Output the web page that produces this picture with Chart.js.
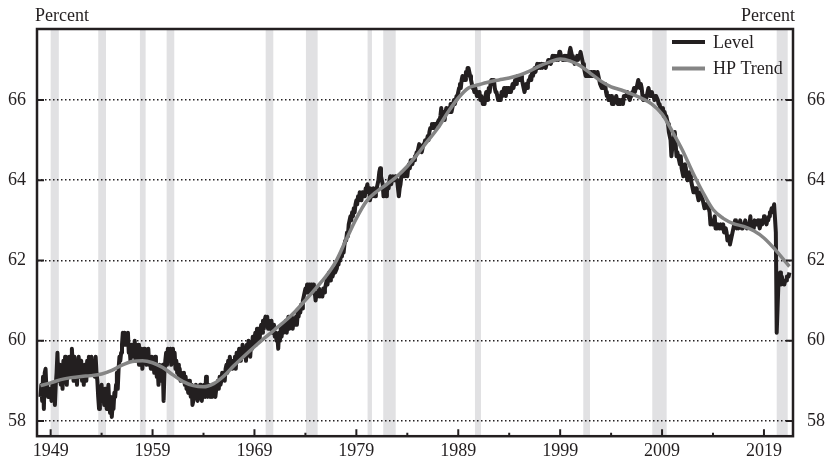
<!DOCTYPE html>
<html>
<head>
<meta charset="utf-8">
<title>Labor force participation rate</title>
<script src="https://cdn.jsdelivr.net/npm/chart.js@4.4.1/dist/chart.umd.min.js"></script>
<style>
  html, body { margin: 0; padding: 0; background: #fff; }
  canvas { display: block; }
</style>
</head>
<body>
<canvas id="chart" width="828" height="461"></canvas>
<script>
'use strict';

// participation rate, monthly, one row per year starting Jan 1948
const levelStartYear = 1948;
const levelValues = [
  58.6,58.9,58.5,59.1,58.3,59.2,59.3,58.8,58.9,58.6,58.8,58.7,
  58.8,58.5,58.9,58.6,58.8,58.4,58.9,59.2,59.7,59.0,59.4,59.1,
  58.9,59.3,58.8,59.5,59.0,59.6,59.2,58.9,59.5,59.3,59.6,59.2,
  59.1,59.8,59.4,59.0,59.6,59.2,59.4,58.9,59.3,59.6,59.1,59.4,
  59.5,59.0,59.3,58.9,59.4,59.2,59.0,59.5,59.3,59.6,59.2,59.4,
  59.6,59.2,59.5,59.3,59.1,59.6,59.2,59.0,58.6,58.3,58.8,58.7,
  58.9,58.5,58.7,58.4,58.8,58.6,58.3,58.5,58.9,58.4,58.2,58.6,
  58.1,58.4,58.3,58.7,58.6,58.9,59.2,58.8,59.3,59.6,59.5,59.7,
  59.9,60.2,60.0,60.2,59.9,60.1,60.0,60.2,59.7,59.8,59.5,59.9,
  59.6,59.9,59.7,60.0,59.5,59.8,59.6,59.9,59.4,59.7,59.5,59.8,
  59.3,59.6,59.8,59.5,59.7,59.4,59.6,59.8,59.4,59.5,59.3,59.6,
  59.3,59.5,59.2,59.6,59.4,59.1,59.3,58.9,59.4,59.2,59.0,59.3,
  59.4,58.5,59.2,59.5,59.7,59.4,59.8,59.5,59.6,59.8,59.4,59.7,
  59.8,59.5,59.7,59.3,59.5,59.2,59.4,59.1,59.3,59.0,59.2,59.1,
  59.0,59.2,58.9,59.1,58.8,58.9,58.7,59.0,58.8,58.6,58.9,58.4,
  58.5,58.8,58.6,58.9,58.7,58.5,58.8,58.6,58.9,58.7,58.5,58.8,
  58.7,58.9,58.6,59.1,58.8,58.6,58.9,58.7,58.6,58.8,58.6,58.9,
  58.7,58.9,58.6,58.8,58.9,59.0,58.8,59.1,58.9,59.0,59.2,59.1,
  59.2,59.0,59.3,59.4,59.2,59.5,59.3,59.6,59.4,59.5,59.3,59.5,
  59.4,59.6,59.3,59.7,59.5,59.6,59.8,59.5,59.7,59.6,59.9,59.7,
  59.6,59.8,59.5,59.9,59.7,60.0,59.8,59.6,59.9,59.8,60.1,59.9,
  60.0,60.2,59.9,60.3,60.1,60.2,60.0,60.3,60.4,60.2,60.5,60.3,
  60.5,60.6,60.4,60.6,60.3,60.5,60.4,60.3,60.5,60.2,60.4,60.3,
  60.1,60.2,60.0,60.1,59.8,60.2,60.0,60.3,60.1,60.4,60.2,60.4,
  60.3,60.5,60.2,60.4,60.6,60.3,60.5,60.4,60.6,60.3,60.5,60.4,
  60.5,60.6,60.4,60.7,60.6,60.8,60.7,60.9,60.8,61.0,61.1,61.2,
  61.3,61.2,61.4,61.2,61.3,61.4,61.3,61.4,61.2,61.4,61.3,61.2,
  61.0,61.2,61.1,61.2,61.3,61.1,61.2,61.2,61.1,61.3,61.2,61.3,
  61.4,61.5,61.4,61.6,61.7,61.5,61.7,61.6,61.6,61.7,61.8,61.7,
  61.7,61.8,62.0,61.9,62.1,62.0,62.2,62.1,62.3,62.2,62.4,62.5,
  62.5,62.7,62.6,62.9,63.0,63.1,63.0,63.2,63.1,63.3,63.2,63.4,
  63.5,63.4,63.6,63.5,63.7,63.6,63.5,63.7,63.6,63.7,63.6,63.8,
  63.8,63.9,63.7,63.8,63.5,63.6,63.7,63.6,63.8,63.7,63.6,63.8,
  63.8,63.9,64.0,64.2,64.3,64.1,64.0,63.9,63.6,63.7,63.8,63.6,
  63.7,63.9,63.8,64.0,64.1,63.9,64.0,64.1,64.0,64.0,64.1,64.0,
  64.0,63.8,63.6,63.8,63.9,64.1,64.2,64.1,64.2,64.1,64.2,64.3,
  64.1,64.3,64.4,64.3,64.5,64.5,64.4,64.5,64.5,64.6,64.6,64.7,
  64.7,64.8,64.9,64.8,64.8,64.7,64.8,64.9,64.9,65.0,65.0,65.0,
  65.1,65.0,65.2,65.3,65.3,65.4,65.3,65.4,65.3,65.4,65.4,65.4,
  65.4,65.5,65.5,65.6,65.8,65.5,65.6,65.7,65.5,65.7,65.8,65.7,
  65.7,65.8,65.7,65.9,65.7,65.8,65.9,66.0,65.9,66.0,66.1,66.1,
  66.2,66.3,66.4,66.3,66.5,66.6,66.5,66.6,66.5,66.7,66.6,66.8,
  66.8,66.7,66.6,66.5,66.4,66.3,66.3,66.2,66.3,66.2,66.1,66.2,
  66.1,66.2,66.0,66.1,66.0,65.9,66.0,65.9,66.1,66.2,66.0,66.1,
  66.3,66.2,66.4,66.5,66.5,66.4,66.5,66.3,66.2,66.2,66.1,66.0,
  66.0,66.1,66.0,66.2,66.1,66.2,66.3,66.2,66.1,66.3,66.2,66.3,
  66.2,66.3,66.2,66.3,66.4,66.3,66.4,66.5,66.4,66.5,66.6,66.5,
  66.6,66.5,66.6,66.5,66.4,66.3,66.2,66.3,66.4,66.3,66.4,66.5,
  66.5,66.6,66.5,66.7,66.6,66.7,66.8,66.7,66.8,66.9,66.8,66.9,
  66.9,66.8,66.9,66.8,66.9,66.9,66.9,66.8,66.9,66.9,67.0,67.0,
  67.0,66.9,67.0,67.1,67.0,67.1,67.0,67.1,67.0,67.1,67.0,67.2,
  67.2,67.1,67.1,67.0,67.0,67.1,67.0,67.1,67.0,67.1,67.0,67.2,
  67.3,67.2,67.1,67.0,67.0,66.9,67.0,67.0,67.1,67.0,67.1,67.1,
  67.2,67.1,67.0,66.9,66.8,66.7,66.6,66.7,66.6,66.7,66.6,66.7,
  66.6,66.7,66.6,66.7,66.6,66.7,66.6,66.6,66.7,66.6,66.5,66.4,
  66.4,66.3,66.3,66.4,66.3,66.4,66.2,66.1,66.1,66.0,66.1,66.0,
  66.1,65.9,66.0,65.9,66.0,66.0,66.1,66.0,65.9,66.0,66.0,65.9,
  66.0,66.0,65.9,66.1,66.1,66.1,66.1,66.2,66.1,66.1,66.0,66.1,
  66.1,66.2,66.2,66.3,66.2,66.3,66.3,66.4,66.5,66.4,66.3,66.4,
  66.3,66.1,66.0,66.0,66.1,66.0,66.1,66.2,66.3,66.2,66.1,66.1,
  66.2,66.1,66.1,66.0,66.1,66.1,66.1,66.0,65.9,65.9,65.8,65.7,
  65.7,65.8,65.6,65.7,65.6,65.6,65.5,65.4,65.2,65.1,65.0,64.6,
  64.8,64.9,64.9,65.2,64.9,64.6,64.7,64.6,64.5,64.4,64.6,64.3,
  64.2,64.1,64.2,64.4,64.3,64.1,64.0,64.1,64.2,64.1,64.0,63.9,
  63.8,63.7,63.8,63.7,63.8,63.7,63.6,63.5,63.6,63.7,63.6,63.6,
  63.5,63.4,63.3,63.4,63.4,63.4,63.3,63.3,63.2,62.9,63.0,62.9,
  62.9,62.9,63.1,62.8,62.8,62.8,62.9,62.9,62.8,62.9,62.8,62.8,
  62.9,62.7,62.7,62.8,62.7,62.5,62.6,62.6,62.4,62.5,62.6,62.7,
  62.8,62.9,63.0,62.9,62.8,62.9,62.8,62.9,63.0,62.9,62.8,62.8,
  62.9,62.9,63.0,62.9,62.8,62.9,62.9,62.9,63.1,62.8,62.9,62.9,
  62.8,63.0,62.9,62.9,62.9,63.0,62.9,62.8,62.9,63.0,62.9,63.0,
  63.1,63.1,63.0,62.9,63.0,63.0,63.1,63.2,63.2,63.3,63.2,63.3,
  63.4,63.4,62.7,60.2,60.8,61.4,61.4,61.7,61.4,61.6,61.5,61.5,
  61.4,61.5,61.5,61.6,61.6,61.6,61.7
];

// HP trend read at the start of each year
const trendYears = [
  1948,1949,1950,1951,1952,1953,1954,1955,1956,1957,1958,1959,
  1960,1961,1962,1963,1964,1965,1966,1967,1968,1969,1970,1971,
  1972,1973,1974,1975,1976,1977,1978,1979,1980,1981,1982,1983,
  1984,1985,1986,1987,1988,1989,1990,1991,1992,1993,1994,1995,
  1996,1997,1998,1999,2000,2001,2002,2003,2004,2005,2006,2007,
  2008,2009,2010,2011,2012,2013,2014,2015,2016,2017,2018,2019,
  2020,2021,2021.5
];
const trendValues = [
  58.88,58.95,59.03,59.08,59.11,59.13,59.17,59.26,59.39,59.48,59.50,59.45,
  59.33,59.15,58.98,58.88,58.85,58.93,59.12,59.38,59.62,59.85,60.07,60.28,
  60.49,60.73,61.01,61.30,61.60,61.98,62.52,63.05,63.48,63.72,63.90,64.10,
  64.35,64.65,64.98,65.30,65.70,66.05,66.30,66.38,66.45,66.50,66.55,66.62,
  66.72,66.85,66.95,67.02,66.97,66.85,66.66,66.47,66.33,66.25,66.15,66.04,
  65.90,65.65,65.22,64.75,64.20,63.70,63.27,63.05,62.92,62.85,62.74,62.56,
  62.30,62.00,61.85
];

// shaded recessions, [start, end] in years
const recessions = [
  [1949.0, 1949.8], [1953.67, 1954.43], [1957.76, 1958.32], [1960.38, 1961.13],
  [1970.1, 1970.85], [1974.05, 1975.2], [1980.1, 1980.53], [1981.64, 1982.86],
  [1990.64, 1991.23], [2001.27, 2001.93], [2008.04, 2009.45], [2020.25, 2021.33]
];

const yTicks = [58, 60, 62, 64, 66];
const xMajorYears = [1949, 1959, 1969, 1979, 1989, 1999, 2009, 2019];
const xMinorYears = [1954, 1964, 1974, 1984, 1994, 2004, 2014];

const ink = '#231f20';
const serif = '"Liberation Serif", "Times New Roman", serif';

const levelPoints = levelValues.map((v, i) => ({x: levelStartYear + i / 12, y: v}));
const trendPoints = trendValues.map((v, i) => ({x: trendYears[i], y: v}));

const decor = {
  id: 'decor',
  beforeDraw(chart) {
    const {ctx, chartArea: a, scales: {x}} = chart;
    ctx.save();
    ctx.fillStyle = '#e1e1e3';
    recessions.forEach(r => {
      const x0 = Math.max(x.getPixelForValue(r[0]), a.left);
      const x1 = Math.min(x.getPixelForValue(r[1]), a.right);
      ctx.fillRect(x0, a.top, x1 - x0, a.bottom - a.top);
    });
    ctx.restore();
  },
  afterDraw(chart) {
    const {ctx, chartArea: a, scales: {x, y}} = chart;
    ctx.save();
    ctx.strokeStyle = ink;
    ctx.lineWidth = 2;
    ctx.beginPath();
    yTicks.forEach(v => {
      const py = y.getPixelForValue(v);
      ctx.moveTo(a.left, py);
      ctx.lineTo(a.left + 7, py);
      ctx.moveTo(a.right - 7, py);
      ctx.lineTo(a.right, py);
    });
    xMajorYears.forEach(v => {
      const px = x.getPixelForValue(v);
      ctx.moveTo(px, a.bottom);
      ctx.lineTo(px, a.bottom - 7);
    });
    xMinorYears.forEach(v => {
      const px = x.getPixelForValue(v);
      ctx.moveTo(px, a.bottom);
      ctx.lineTo(px, a.bottom - 3.5);
    });
    ctx.stroke();

    // frame round the plot
    ctx.lineWidth = 2.5;
    ctx.strokeRect(a.left, a.top, a.right - a.left, a.bottom - a.top);

    // unit labels
    ctx.fillStyle = ink;
    ctx.font = '18px ' + serif;
    ctx.textBaseline = 'alphabetic';
    ctx.textAlign = 'left';
    ctx.fillText('Percent', a.left - 2, 21);
    ctx.textAlign = 'right';
    ctx.fillText('Percent', a.right + 2, 21);

    // legend
    ctx.font = '18px ' + serif;
    ctx.textAlign = 'left';
    ctx.textBaseline = 'middle';
    chart.data.datasets.forEach((ds, i) => {
      const ly = a.top + 13 + i * 26.5;
      ctx.strokeStyle = ds.borderColor;
      ctx.lineWidth = 4;
      ctx.beginPath();
      ctx.moveTo(a.right - 121, ly);
      ctx.lineTo(a.right - 88, ly);
      ctx.stroke();
      ctx.fillText(ds.label, a.right - 80, ly + 1);
    });
    ctx.restore();
  }
};

const tickFont = {family: serif, size: 18};

const ctx = document.getElementById('chart').getContext('2d');
const chart = new Chart(ctx, {
  type: 'line',
  data: {
    datasets: [
      {
        label: 'Level',
        data: levelPoints,
        borderColor: ink,
        borderWidth: 4,
        borderJoinStyle: 'round',
        pointRadius: 0,
        order: 2
      },
      {
        label: 'HP Trend',
        data: trendPoints,
        borderColor: '#858585',
        borderWidth: 3.5,
        pointRadius: 0,
        cubicInterpolationMode: 'monotone',
        order: 1
      }
    ]
  },
  options: {
    responsive: false,
    animation: false,
    devicePixelRatio: 1,
    layout: {padding: {top: 29, left: 0, right: 0, bottom: 0}},
    plugins: {legend: {display: false}, tooltip: {enabled: false}},
    scales: {
      x: {
        type: 'linear',
        min: 1947.66,
        max: 2021.85,
        grid: {display: false},
        border: {display: false},
        afterBuildTicks: s => { s.ticks = xMajorYears.map(v => ({value: v})); },
        afterFit: s => { s.height = 24; },
        ticks: {font: tickFont, color: ink, padding: -4, maxRotation: 0, autoSkip: false,
                callback: v => String(v)}
      },
      y: {
        position: 'left',
        min: 57.62,
        max: 67.77,
        border: {display: false, dash: [1.5, 2.5]},
        grid: {color: ink, lineWidth: 1.5, drawTicks: false},
        afterBuildTicks: s => { s.ticks = yTicks.map(v => ({value: v})); },
        afterFit: s => { s.width = 37; },
        ticks: {font: tickFont, color: ink, padding: 11, callback: v => String(v)}
      },
      y2: {
        position: 'right',
        min: 57.62,
        max: 67.77,
        border: {display: false},
        grid: {display: false, drawTicks: false},
        afterBuildTicks: s => { s.ticks = yTicks.map(v => ({value: v})); },
        afterFit: s => { s.width = 35; },
        ticks: {font: tickFont, color: ink, padding: 14, callback: v => String(v)}
      }
    }
  },
  plugins: [decor]
});
</script>
</body>
</html>
